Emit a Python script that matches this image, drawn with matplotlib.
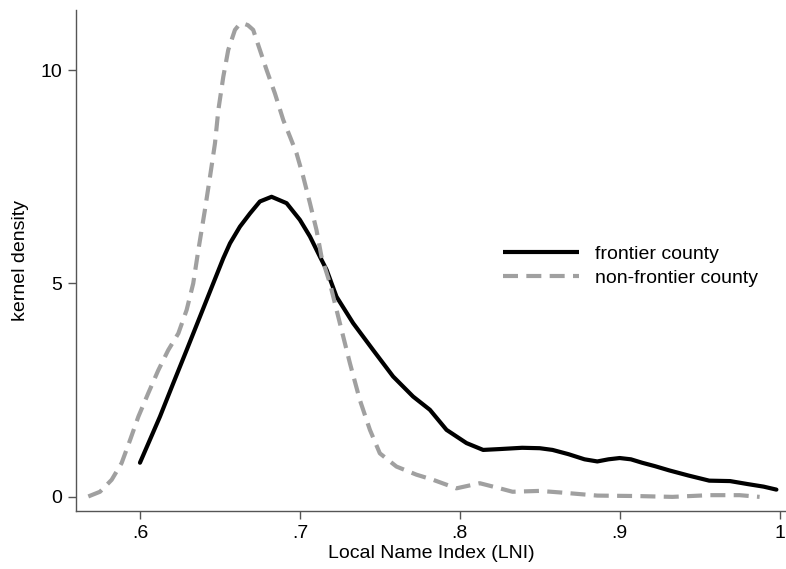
import matplotlib
matplotlib.use("Agg")
import matplotlib.pyplot as plt

plt.rcParams["font.family"] = ["Liberation Sans", "DejaVu Sans"]

# frontier county (solid black)
frontier_x = [0.600, 0.6125, 0.6208, 0.6292, 0.6375, 0.6458, 0.6521,
              0.6563, 0.6625, 0.6688, 0.675, 0.6823, 0.6917, 0.700, 0.7063,
              0.7125, 0.7167, 0.7229, 0.7333, 0.7458, 0.7583, 0.7708, 0.7813,
              0.7917, 0.8042, 0.8146, 0.825, 0.839, 0.850, 0.858, 0.868,
              0.878, 0.886, 0.893, 0.900, 0.907, 0.914, 0.922, 0.931, 0.943,
              0.956, 0.969, 0.980, 0.990, 0.998]
frontier_y = [0.80, 1.88, 2.66, 3.44, 4.22, 5.00, 5.59,
              5.94, 6.33, 6.64, 6.92, 7.03, 6.88, 6.49, 6.10,
              5.63, 5.32, 4.69, 4.07, 3.44, 2.82, 2.35, 2.04,
              1.57, 1.26, 1.10, 1.12, 1.15, 1.14, 1.10, 1.00,
              0.88, 0.83, 0.88, 0.91, 0.88, 0.80, 0.72, 0.62, 0.50,
              0.38, 0.37, 0.30, 0.24, 0.17]

# non-frontier county (dashed grey)
nonfrontier_x = [0.5677, 0.575, 0.5823, 0.5885, 0.5938, 0.599, 0.6052, 0.6115,
                 0.6177, 0.624, 0.6292, 0.6333, 0.6365, 0.6406, 0.6438, 0.6469,
                 0.649, 0.6521, 0.6552, 0.6594, 0.662, 0.6646, 0.6675, 0.6708,
                 0.675, 0.6792, 0.6844, 0.6896, 0.6938, 0.6979, 0.7021, 0.7063,
                 0.7104, 0.7135, 0.7188, 0.725, 0.7313, 0.7375, 0.7438, 0.750,
                 0.7604, 0.7729, 0.7833, 0.7979, 0.8125, 0.825, 0.833, 0.850,
                 0.864, 0.886, 0.910, 0.933, 0.956, 0.975, 0.9875]
nonfrontier_y = [0.01, 0.12, 0.40, 0.79, 1.33, 1.88, 2.43, 2.97,
                 3.44, 3.83, 4.38, 5.00, 5.78, 6.72, 7.50, 8.28,
                 9.06, 9.84, 10.47, 10.94, 11.06, 11.09, 11.05, 10.94,
                 10.47, 10.00, 9.45, 8.83, 8.44, 8.05, 7.50, 6.88,
                 6.25, 5.63, 5.00, 4.07, 3.13, 2.27, 1.57, 1.02,
                 0.71, 0.52, 0.40, 0.20, 0.32, 0.20, 0.12, 0.14,
                 0.10, 0.03, 0.02, 0.00, 0.04, 0.04, 0.00]

xticks = [0.6, 0.7, 0.8, 0.9, 1.0]
xtick_labels = [".6", ".7", ".8", ".9", "1"]
yticks = [0, 5, 10]
ytick_labels = ["0", "5", "10"]

fig = plt.figure(figsize=(7.86, 5.69), dpi=100)
ax = fig.add_axes([0.0967, 0.102, 0.9033, 0.880])

ax.plot(frontier_x, frontier_y, color="black", lw=3.0,
        solid_capstyle="round", solid_joinstyle="round", label="frontier county")
ax.plot(nonfrontier_x, nonfrontier_y, color="#a0a0a0", lw=3.0,
        dashes=(3.6, 2.0), dash_capstyle="butt", dash_joinstyle="round",
        label="non-frontier county")

ax.set_xlim(0.56, 1.004)
ax.set_ylim(-0.33, 11.4)
ax.set_xticks(xticks)
ax.set_xticklabels(xtick_labels)
ax.set_yticks(yticks)
ax.set_yticklabels(ytick_labels)

for side in ["top", "right"]:
    ax.spines[side].set_visible(False)
for side in ["left", "bottom"]:
    ax.spines[side].set_color("#555555")
    ax.spines[side].set_linewidth(1.0)
ax.tick_params(direction="out", length=6, width=1, color="#555555",
               labelsize=14, pad=4)

ax.set_xlabel("Local Name Index (LNI)", fontsize=14, labelpad=2)
ax.set_ylabel("kernel density", fontsize=14, labelpad=8)

leg = ax.legend(loc="upper left", bbox_to_anchor=(0.577, 0.566), frameon=False,
                fontsize=14, handlelength=3.9, handletextpad=0.8,
                labelspacing=0.35)
for line in leg.get_lines():
    line.set_solid_capstyle("butt")

fig.savefig("out.png", dpi=100)
